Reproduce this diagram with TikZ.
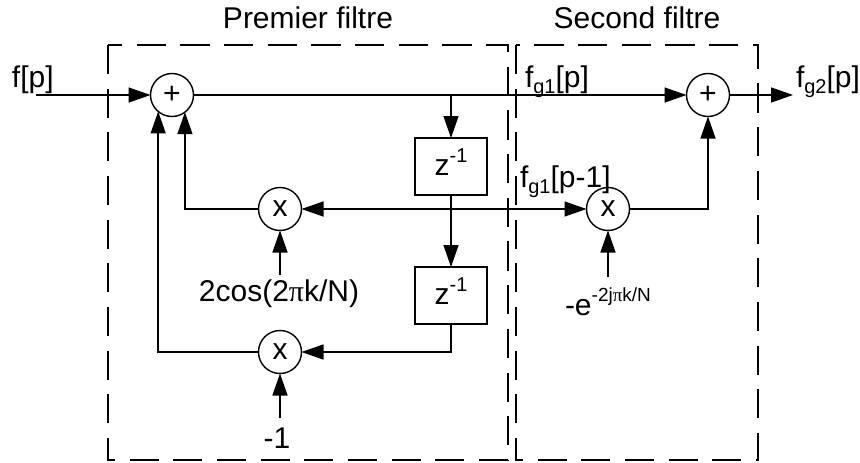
\documentclass[tikz,border=0pt]{standalone}
\usepackage{fontspec}
\setmainfont{Liberation Sans}
\newfontfamily\pifont{Liberation Serif}
\usetikzlibrary{arrows.meta}
\newcommand{\lowtxt}[1]{\raisebox{-6.5pt}{\fontsize{20}{20}\selectfont #1}}
\newcommand{\hightxt}[1]{\raisebox{13pt}{\fontsize{20}{20}\selectfont #1}}
\tikzset{
  every node/.style={font=\fontsize{30}{32}\selectfont, inner sep=0pt, outer sep=0pt},
  opnode/.style={draw, circle, minimum size=43pt, line width=1.4pt},
  delaybox/.style={draw, rectangle, minimum width=72pt, minimum height=57pt, line width=1.4pt, text height=17pt, text depth=0pt},
  wire/.style={line width=1.4pt},
  arr/.style={wire, -{Triangle[length=22pt,width=15pt]}},
  biarr/.style={wire, {Triangle[length=22pt,width=15pt]}-{Triangle[length=22pt,width=15pt]}},
  frame/.style={line width=1.4pt, dash pattern=on 29.1pt off 14.57pt},
}
\begin{document}
\begin{tikzpicture}[x=1pt,y=-1pt]
\useasboundingbox (0,0) rectangle (860,463);
% dashed frames
\draw[frame] (108,45) -- (108,460) -- (508,460) -- (508,45) -- (108,45);
\draw[frame] (516,45) -- (516,460) -- (758,460) -- (758,45) -- (516,45);
% titles
\node[anchor=base] (t1) at (308,28) {Premier filtre};
\node[anchor=base] (t2) at (637,28) {Second filtre};
% operators
\node[opnode] (s1) at (172,95) {+};
\node[opnode] (s2) at (708,95) {+};
\node[opnode] (m1) at (280,209) {x};
\node[opnode] (m2) at (280,352) {x};
\node[opnode] (m3) at (608,209) {x};
\node[delaybox] (z1) at (451,166.5) {z\hightxt{-1}};
\node[delaybox] (z2) at (451,295.5) {z\hightxt{-1}};
% free ends and junctions
\coordinate (in) at (36,95);
\coordinate (out) at (793,95);
\coordinate (j1) at (451,95);
\coordinate (c1) at (280,275);
\coordinate (c2) at (280,418);
\coordinate (c3) at (608,277);
% connectors
\draw[arr] (in) -- (s1.west);
\draw[arr] (s1.east) -- (s2.west);
\draw[arr] (s2.east) -- (out);
\draw[arr] (j1) -- (z1.north);
\draw[arr] (z1.south) -- (z2.north);
\draw[arr] (z2.south) |- (m2.east);
\draw[biarr] (m1.east) -- (m3.west);
\draw[arr] (m1.west) -| (s1.-53);
\draw[arr] (m2.west) -| (s1.-130);
\draw[arr] (m3.east) -| (s2.south);
\draw[arr] (c1) -- (m1.south);
\draw[arr] (c2) -- (m2.south);
\draw[arr] (c3) -- (m3.south);
% labels
\node[anchor=base west] (l1) at (12,87) {f[p]};
\node[anchor=base west] (l2) at (525,87) {f\lowtxt{g1}[p]};
\node[anchor=base west] (l3) at (520,187) {f\lowtxt{g1}[p-1]};
\node[anchor=base west] (l4) at (796,87) {f\lowtxt{g2}[p]};
\node[anchor=base] (l5) at (279,301) {2cos(2{\pifont π}k/N)};
\node[anchor=base] (l6) at (277,448) {-1};
\node[anchor=base west] (l7) at (565,315) {-e\raisebox{14pt}{\fontsize{19}{19}\selectfont -2j{\pifont π}k/N}};
\end{tikzpicture}
\end{document}
